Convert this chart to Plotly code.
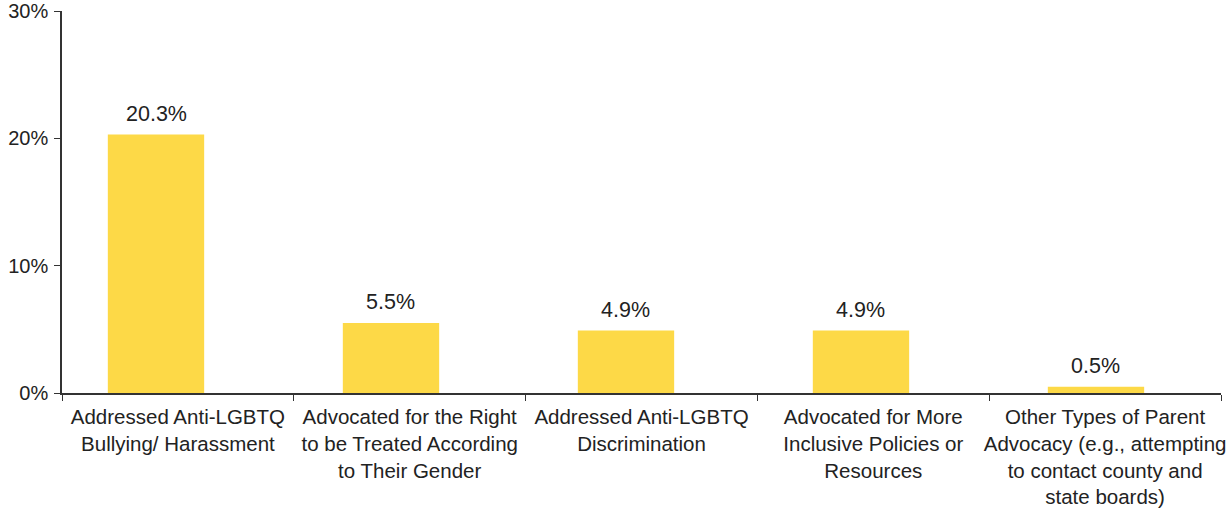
import plotly.graph_objects as go

categories = [
    'Addressed Anti-LGBTQ<br>Bullying/ Harassment',
    'Advocated for the Right<br>to be Treated According<br>to Their Gender',
    'Addressed Anti-LGBTQ<br>Discrimination',
    'Advocated for More<br>Inclusive Policies or<br>Resources',
    'Other Types of Parent<br>Advocacy (e.g., attempting<br>to contact county and<br>state boards)',
]
values = [20.3, 5.5, 4.9, 4.9, 0.5]
labels = ['20.3%', '5.5%', '4.9%', '4.9%', '0.5%']

bar_color = '#FDD947'
axis_color = '#333333'
font = 'Liberation Sans, Arial, sans-serif'

fig = go.Figure()
# Category axis with boundary ticks (nothing drawn).
fig.add_trace(go.Scatter(x=categories, y=values, mode='none', hoverinfo='skip'))
# Bars sit on an overlaid axis; slots are slightly wider than the categories.
fig.add_trace(go.Bar(
    x=categories,
    y=values,
    xaxis='x2',
    yaxis='y',
    marker={'color': bar_color, 'line': {'width': 0}},
    width=0.41,
    hoverinfo='skip',
))

for cat, val, lab in zip(categories, values, labels):
    fig.add_annotation(
        x=cat, y=val, xref='x2', yref='y', text=lab, showarrow=False,
        yanchor='bottom', yshift=7,
        font={'family': font, 'size': 21.5, 'color': '#222222'},
    )

fig.update_layout(
    width=1228,
    height=508,
    margin={'l': 62, 'r': 7, 't': 11, 'b': 115},
    paper_bgcolor='white',
    plot_bgcolor='white',
    showlegend=False,
    font={'family': font, 'size': 20, 'color': '#222222'},
    xaxis={
        'domain': [0, 1],
        'anchor': 'y',
        'type': 'category',
        'categoryarray': categories,
        'range': [-0.5, 4.5],
        'automargin': False,
        'tickangle': 0,
        'showgrid': False,
        'zeroline': False,
        'showline': True,
        'linecolor': axis_color,
        'linewidth': 1.5,
        'ticks': 'outside',
        'tickson': 'boundaries',
        'ticklen': 6,
        'tickcolor': axis_color,
        'tickfont': {'size': 20.5},
        'ticklabelstandoff': 5,
    },
    xaxis2={
        'domain': [0, 1],
        'anchor': 'y',
        'overlaying': 'x',
        'type': 'category',
        'categoryarray': categories,
        'range': [-0.4, 4.532],
        'visible': False,
        'showgrid': False,
    },
    yaxis={
        'domain': [0, 1],
        'anchor': 'x',
        'automargin': False,
        'range': [0, 30],
        'tickvals': [0, 10, 20, 30],
        'ticktext': ['0%', '10%', '20%', '30%'],
        'showgrid': False,
        'zeroline': False,
        'showline': True,
        'linecolor': axis_color,
        'linewidth': 1.5,
        'ticks': 'outside',
        'ticklen': 6,
        'tickcolor': axis_color,
        'tickfont': {'size': 20},
        'ticklabelstandoff': 2,
    },
)

fig.write_html('out.html', config={'displayModeBar': False},
               post_script="document.body.style.margin='0';")
